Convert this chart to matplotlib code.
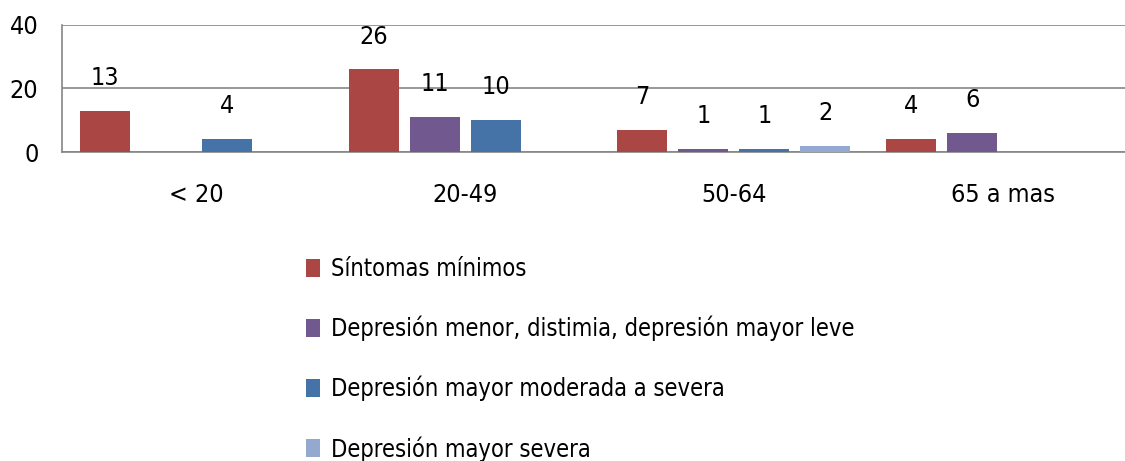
#!/usr/bin/env python3
"""Grouped bar chart: depression level by age group."""
import numpy as np
import matplotlib
matplotlib.use("Agg")
import matplotlib.pyplot as plt

plt.rcParams["font.family"] = ["DejaVu Sans"]
plt.rcParams["font.stretch"] = "condensed"

groups = ["< 20", "20-49", "50-64", "65 a mas"]
series = ["Síntomas mínimos",
          "Depresión menor, distimia, depresión mayor leve",
          "Depresión mayor moderada a severa",
          "Depresión mayor severa"]
# nan = no bar drawn for that group
minimos = [13, 26, 7, 4]
menor = [np.nan, 11, 1, 6]
moderada = [4, 10, 1, np.nan]
severa = [np.nan, np.nan, 2, np.nan]
colors = ["#AA4643", "#71588F", "#4572A7", "#93A9CF"]

fig = plt.figure(figsize=(11.25, 4.61), dpi=100)
ax = fig.add_axes([62 / 1125, 309 / 461, 1075 / 1125, 127 / 461])

x = np.arange(len(groups))
step, width = 0.227, 0.186
for i, (name, vals, c) in enumerate(zip(series, [minimos, menor, moderada, severa], colors)):
    pos = x + (i - 1.5) * step
    ax.bar(pos, vals, width, color=c, label=name, edgecolor="none", zorder=3)
    for p, v in zip(pos, vals):
        if not np.isnan(v):
            ax.annotate(f"{v:g}", (p, v), xytext=(0, 15), textcoords="offset points",
                        ha="center", va="bottom", fontsize=18)

ax.set_xlim(-0.5, 3.5)
ax.set_ylim(0, 40)
ax.set_yticks([0, 20, 40])
ax.set_xticks(x, groups)
ax.tick_params(length=0, labelsize=18)
ax.tick_params(axis="x", pad=22)
ax.tick_params(axis="y", pad=17)
ax.grid(axis="y", color="#868686", lw=1.2, zorder=0)
for s in ["left", "bottom"]:
    ax.spines[s].set_color("#868686")
    ax.spines[s].set_linewidth(1.2)
ax.spines["top"].set_visible(False)
ax.spines["right"].set_visible(False)

ax.legend(loc="upper left", bbox_to_anchor=(306 / 1125, 1 - 257 / 461),
          bbox_transform=fig.transFigure, frameon=False, fontsize=17,
          handlelength=0.6, handleheight=0.8, handletextpad=0.45,
          labelspacing=1.47, borderpad=0, borderaxespad=0)

fig.savefig("out.png", dpi=100)
